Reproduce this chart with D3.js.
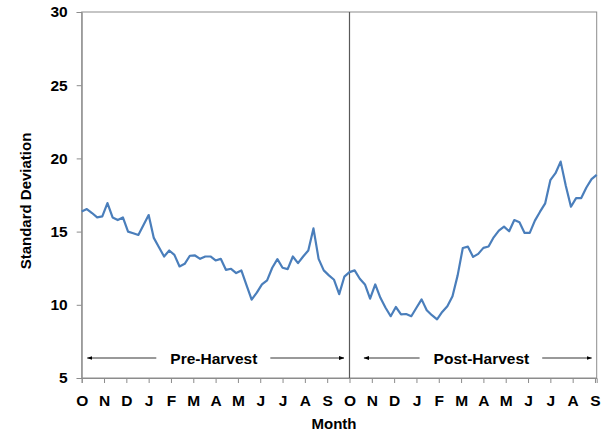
<!DOCTYPE html>
<html>
<head>
<meta charset="utf-8">
<script src="https://cdn.jsdelivr.net/npm/d3@7"></script>
<style>
  body { margin: 0; background: #fff; }
  svg text { font-family: Arial, "Liberation Sans", sans-serif; font-weight: bold; fill: #000; }
</style>
</head>
<body>
<script>
// weekly standard deviation, Oct to Sep of the next-but-one year (101 weeks)
var stdDev = [
  16.38, 16.54, 16.27, 15.97, 16.04, 16.95, 15.97, 15.79, 15.97, 15.00,
  14.89, 14.77, 15.45, 16.13, 14.57, 13.93, 13.30, 13.71, 13.41, 12.62,
  12.80, 13.35, 13.37, 13.14, 13.30, 13.30, 13.03, 13.14, 12.39, 12.46,
  12.17, 12.35, 11.35, 10.35, 10.83, 11.39, 11.67, 12.53, 13.12, 12.53,
  12.44, 13.30, 12.85, 13.30, 13.71, 15.22, 13.14, 12.35, 12.01, 11.71,
  10.73, 11.92, 12.23, 12.35, 11.78, 11.39, 10.42, 11.39, 10.48, 9.80,
  9.22, 9.85, 9.35, 9.37, 9.22, 9.80, 10.37, 9.63, 9.29, 9.01,
  9.51, 9.90, 10.58, 12.01, 13.88, 13.97, 13.27, 13.48, 13.89, 13.98,
  14.61, 15.07, 15.34, 15.02, 15.79, 15.64, 14.91, 14.91, 15.75, 16.36,
  16.93, 18.51, 18.99, 19.78, 18.13, 16.70, 17.29, 17.29, 18.01, 18.58,
  18.88
]
var months = ['O','N','D','J','F','M','A','M','J','J','A','S',
              'O','N','D','J','F','M','A','M','J','J','A','S']
var yTicks = [5, 10, 15, 20, 25, 30]
var harvestMonth = 12   // October of the second year

var width = 605, height = 445
var plot = { left: 81.7, right: 596.7, top: 12, bottom: 378 }

var svg = d3.select('body').append('svg')
  .attr('width', width)
  .attr('height', height)

var x = d3.scaleLinear()
  .domain([0, (stdDev.length - 1) * 12 / 52])
  .range([plot.left, plot.right])
var y = d3.scaleLinear()
  .domain([5, 30])
  .range([plot.bottom, plot.top])

// plot border
svg.append('rect')
  .attr('x', plot.left)
  .attr('y', plot.top)
  .attr('width', plot.right - plot.left)
  .attr('height', plot.bottom - plot.top)
  .attr('fill', 'none')
  .attr('stroke', '#8c8c8c')
  .attr('stroke-width', 1)

// y axis
var yAxis = svg.append('g')
  .attr('transform', 'translate(' + plot.left + ',0)')
  .call(d3.axisLeft(y).tickValues(yTicks).tickSize(5).tickPadding(9))
yAxis.select('.domain').attr('stroke', '#8c8c8c')
yAxis.selectAll('.tick line').attr('stroke', '#8c8c8c')
yAxis.selectAll('text').style('font-size', '15.5px')

// x axis
var xAxis = svg.append('g')
  .attr('transform', 'translate(0,' + plot.bottom + ')')
  .call(d3.axisBottom(x)
    .tickValues(d3.range(months.length))
    .tickFormat(function(d){ return months[d] })
    .tickSize(5).tickPadding(12))
xAxis.select('.domain').attr('stroke', '#8c8c8c')
xAxis.selectAll('.tick line').attr('stroke', '#8c8c8c')
xAxis.selectAll('text').style('font-size', '15.5px')

// harvest divider
svg.append('line')
  .attr('x1', x(harvestMonth)).attr('x2', x(harvestMonth))
  .attr('y1', plot.top).attr('y2', plot.bottom)
  .attr('stroke', '#595959')
  .attr('stroke-width', 1.2)

// series
var line = d3.line()
  .x(function(d, i){ return x(i * 12 / 52) })
  .y(function(d){ return y(d) })
svg.append('path')
  .datum(stdDev)
  .attr('d', line)
  .attr('fill', 'none')
  .attr('stroke', '#4a7ebb')
  .attr('stroke-width', 2.2)
  .attr('stroke-linejoin', 'round')

// arrow markers
var defs = svg.append('defs')
defs.append('marker')
  .attr('id', 'head')
  .attr('viewBox', '0 0 10 10')
  .attr('refX', 9).attr('refY', 5)
  .attr('markerWidth', 7).attr('markerHeight', 7)
  .attr('orient', 'auto-start-reverse')
  .append('path')
  .attr('d', 'M0,1.5 L10,5 L0,8.5 Z')
  .attr('fill', '#000')

var phases = [
  { label: 'Pre-Harvest',  from: 0.25,  to: 11.75, textX: 5.92 },
  { label: 'Post-Harvest', from: 12.65, to: 22.85, textX: 17.91 }
]
var arrowY = 358
phases.forEach(function(p){
  var t = svg.append('text')
    .attr('x', x(p.textX))
    .attr('y', arrowY + 6)
    .attr('text-anchor', 'middle')
    .style('font-size', '15.5px')
    .text(p.label)
  var bb = t.node().getBBox()
  svg.append('line')
    .attr('x1', bb.x - 14).attr('x2', x(p.from))
    .attr('y1', arrowY).attr('y2', arrowY)
    .attr('stroke', '#000').attr('stroke-width', 0.8)
    .attr('marker-end', 'url(#head)')
  svg.append('line')
    .attr('x1', bb.x + bb.width + 13).attr('x2', x(p.to))
    .attr('y1', arrowY).attr('y2', arrowY)
    .attr('stroke', '#000').attr('stroke-width', 0.8)
    .attr('marker-end', 'url(#head)')
})

// axis titles
svg.append('text')
  .attr('x', 334)
  .attr('y', 429)
  .attr('text-anchor', 'middle')
  .style('font-size', '15px')
  .text('Month')

svg.append('text')
  .attr('transform', 'translate(31,201) rotate(-90)')
  .attr('text-anchor', 'middle')
  .style('font-size', '15px')
  .text('Standard Deviation')
</script>
</body>
</html>
